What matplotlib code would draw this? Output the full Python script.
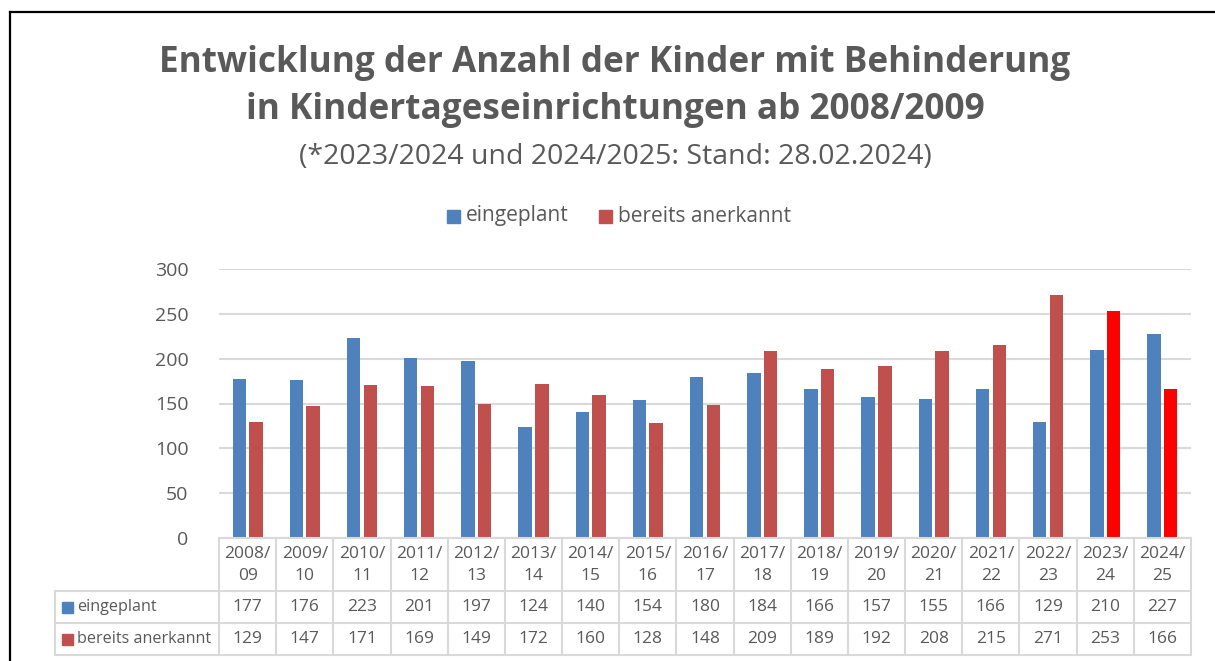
"""
Grouped bar chart with an Excel-style data table underneath:
Kinder mit Behinderung in Kindertageseinrichtungen, 2008/09 - 2024/25.

Writes out.png (1215x661 px).
"""

from __future__ import annotations

import matplotlib

matplotlib.use("Agg")
import matplotlib.pyplot as plt
import numpy as np
from matplotlib.lines import Line2D
from matplotlib.patches import Rectangle
from matplotlib.transforms import blended_transform_factory


YEARS = ["2008/\n09", "2009/\n10", "2010/\n11", "2011/\n12", "2012/\n13",
         "2013/\n14", "2014/\n15", "2015/\n16", "2016/\n17", "2017/\n18",
         "2018/\n19", "2019/\n20", "2020/\n21", "2021/\n22", "2022/\n23",
         "2023/\n24", "2024/\n25"]
EINGEPLANT = [177, 176, 223, 201, 197, 124, 140, 154, 180, 184,
              166, 157, 155, 166, 129, 210, 227]
ANERKANNT = [129, 147, 171, 169, 149, 172, 160, 128, 148, 209,
             189, 192, 208, 215, 271, 253, 166]
SERIES_NAMES = ["eingeplant", "bereits anerkannt"]
Y_TICKS = [0, 50, 100, 150, 200, 250, 300]

TITLE_LINES = ["Entwicklung der Anzahl der Kinder mit Behinderung",
               "in Kindertageseinrichtungen ab 2008/2009"]
SUBTITLE = "(*2023/2024 und 2024/2025: Stand: 28.02.2024)"

BLUE = "#4F81BD"
RED = "#C0504D"
HIGHLIGHT = "#FF0000"      # preliminary years (Stand 28.02.2024)
N_HIGHLIGHT = 2
TEXT = "#595959"
GRID = "#D9D9D9"

W, H = 1215, 661
FONT = "Open Sans"


def fx(x: float) -> float:
    return x / W


def fy(y: float) -> float:
    return 1 - y / H


def main() -> int:
    plt.rcParams["font.family"] = [FONT, "DejaVu Sans"]
    fig = plt.figure(figsize=(W / 100, H / 100), dpi=100)

    # frame (top and left edge only, the rest is cropped in the original)
    fig.add_artist(Line2D([fx(10), fx(10)], [fy(12), 0], color="black", lw=1.6))
    fig.add_artist(Line2D([fx(10), 1], [fy(12), fy(12)], color="black", lw=1.6))

    for yc, line in zip((63, 110), TITLE_LINES):
        fig.text(fx(615), fy(yc), line, ha="center", va="center",
                 fontsize=25.3, fontweight="bold", color=TEXT)
    fig.text(fx(615), fy(157), SUBTITLE, ha="center", va="center",
             fontsize=20.5, color=TEXT)

    # legend on top
    for (x0, label, color) in [(447, SERIES_NAMES[0], BLUE),
                               (599, SERIES_NAMES[1], RED)]:
        fig.add_artist(Rectangle((fx(x0), fy(223)), fx(13), 13 / H,
                                 color=color, transform=fig.transFigure))
        fig.text(fx(x0 + 19), fy(216), label, ha="left", va="center",
                 fontsize=15, color=TEXT)

    left, right, top, bottom = 219, 1191, 269, 538
    ax = fig.add_axes([fx(left), fy(bottom), fx(right - left), (bottom - top) / H])
    n = len(YEARS)
    x = np.arange(n)
    bw = 0.235
    off = 0.146
    red_colors = [RED] * (n - N_HIGHLIGHT) + [HIGHLIGHT] * N_HIGHLIGHT
    ax.bar(x - off, EINGEPLANT, bw, color=BLUE, zorder=3)
    ax.bar(x + off, ANERKANNT, bw, color=red_colors, zorder=3)

    ax.set_xlim(-0.5, n - 0.5)
    ax.set_ylim(0, 300)
    ax.set_yticks(Y_TICKS)
    ax.set_yticklabels([str(t) for t in Y_TICKS], fontsize=14, color=TEXT)
    ax.tick_params(axis="y", length=0, pad=22)
    ax.set_xticks([])
    ax.grid(True, axis="y", color=GRID, lw=1.5, zorder=0)
    for s in ax.spines.values():
        s.set_visible(False)

    # data table below the axis, drawn in data-x / pixel-y coordinates
    tr = blended_transform_factory(ax.transData, fig.transFigure)
    line_kw = dict(color=GRID, lw=1.5, clip_on=False)
    x_lo, x_hi = -0.5, n - 0.5
    x_lab = (55 - left) / (right - left) * n - 0.5
    for y in (538, 591, 623, 655):
        xs = x_lo if y == 538 else x_lab
        fig.add_artist(Line2D([xs, x_hi], [fy(y), fy(y)], transform=tr, **line_kw))
    for i in range(n + 1):
        fig.add_artist(Line2D([i - 0.5, i - 0.5], [fy(538), fy(655)],
                              transform=tr, **line_kw))
    fig.add_artist(Line2D([x_lab, x_lab], [fy(591), fy(655)],
                          transform=tr, **line_kw))

    for i, lab in enumerate(YEARS):
        fig.text(i, fy(565), lab, transform=tr, ha="center", va="center",
                 fontsize=12.5, color=TEXT, linespacing=1.45)
        fig.text(i, fy(607), str(EINGEPLANT[i]), transform=tr, ha="center",
                 va="center", fontsize=12.5, color=TEXT)
        fig.text(i, fy(639), str(ANERKANNT[i]), transform=tr, ha="center",
                 va="center", fontsize=12.5, color=TEXT)

    for yc, label, color in [(607, SERIES_NAMES[0], BLUE),
                             (639, SERIES_NAMES[1], RED)]:
        fig.add_artist(Rectangle((fx(62), fy(yc + 5.5)), fx(11), 11 / H,
                                 color=color, transform=fig.transFigure))
        fig.text(fx(77), fy(yc), label, ha="left", va="center",
                 fontsize=11.6, color=TEXT)

    fig.savefig("out.png", dpi=100)
    return 0


if __name__ == "__main__":
    raise SystemExit(main())
